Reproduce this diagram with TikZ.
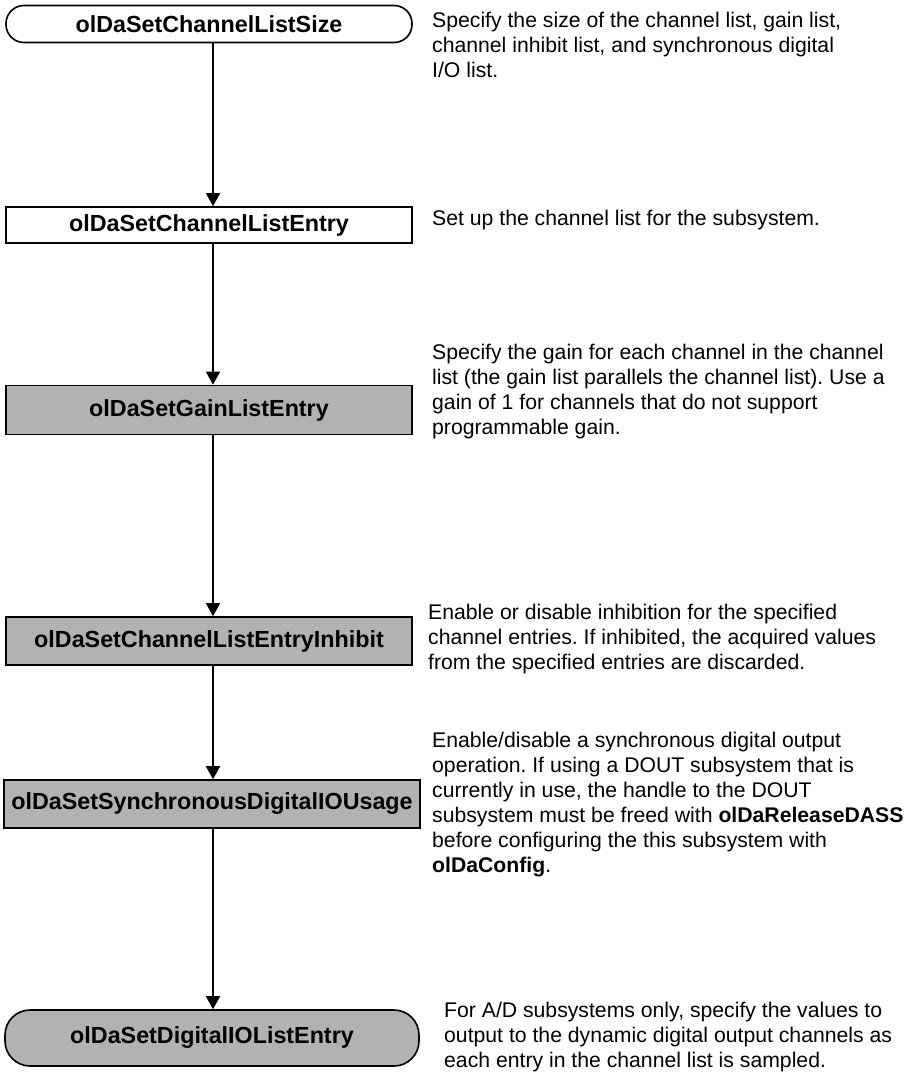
\documentclass[tikz,border=0pt]{standalone}
\usepackage{fontspec}
\setmainfont{Liberation Sans}
\usetikzlibrary{arrows.meta}
\frenchspacing
\begin{document}
\begin{tikzpicture}[x=1pt,y=-1pt,
  fn/.style={draw=black,line width=1.6pt,inner sep=0pt,
    font=\fontsize{23.3}{25}\selectfont\bfseries},
  plainbox/.style={fn,fill=white},
  shadebox/.style={fn,fill=black!30},
  descr/.style={anchor=north west,inner sep=0pt,align=left,
    font=\fontsize{21.2}{25}\selectfont},
  arr/.style={line width=1.6pt,-{Triangle[width=14pt,length=13pt]}}]
\useasboundingbox (0,0) rectangle (916,1076);

% call sequence
\node[plainbox,rounded corners=18pt,minimum width=406pt,minimum height=37pt] (b1) at (209,24) {olDaSetChannelListSize};
\node[plainbox,minimum width=406pt,minimum height=36pt] (b2) at (209,225) {olDaSetChannelListEntry};
\node[shadebox,minimum width=406pt,minimum height=49pt] (b3) at (209,410) {olDaSetGainListEntry};
\node[shadebox,minimum width=406pt,minimum height=48pt] (b4) at (209,641) {olDaSetChannelListEntryInhibit};
\node[shadebox,minimum width=416pt,minimum height=48pt] (b5) at (212,804) {olDaSetSynchronousDigitalIOUsage};
\node[shadebox,rounded corners=25pt,minimum width=414pt,minimum height=56pt] (b6) at (212,1038) {olDaSetDigitalIOListEntry};

\coordinate (ax) at (213,0);
\draw[arr] (b1.south -| ax) -- (b2.north -| ax);
\draw[arr] (b2.south -| ax) -- (b3.north -| ax);
\draw[arr] (b3.south -| ax) -- (b4.north -| ax);
\draw[arr] (b4.south -| ax) -- (b5.north -| ax);
\draw[arr] (b5.south -| ax) -- (b6.north -| ax);

% explanations
\node[descr] (d1) at (432,12) {Specify the size of the channel list, gain list,\\channel inhibit list, and synchronous digital\\I/O list.};
\node[descr] (d2) at (432,210) {Set up the channel list for the subsystem.};
\node[descr] (d3) at (432,344) {Specify the gain for each channel in the channel\\list (the gain list parallels the channel list). Use a\\gain of 1 for channels that do not support\\programmable gain.};
\node[descr] (d4) at (428,604) {Enable or disable inhibition for the specified\\channel entries. If inhibited, the acquired values\\from the specified entries are discarded.};
\node[descr] (d5) at (432,732) {Enable/disable a synchronous digital output\\operation. If using a DOUT subsystem that is\\currently in use, the handle to the DOUT\\subsystem must be freed with \textbf{olDaReleaseDASS}\\before configuring the this subsystem with\\\textbf{olDaConfig}.};
\node[descr] (d6) at (444,1002) {For A/D subsystems only, specify the values to\\output to the dynamic digital output channels as\\each entry in the channel list is sampled.};
\end{tikzpicture}
\end{document}
